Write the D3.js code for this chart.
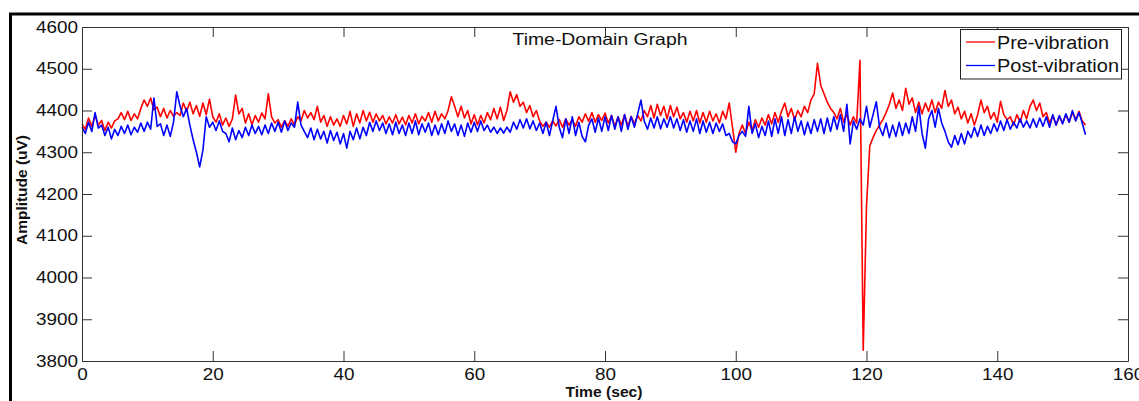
<!DOCTYPE html>
<html>
<head>
<meta charset="utf-8">
<script src="https://cdn.jsdelivr.net/npm/d3@7"></script>
<style>
  body { margin: 0; background: #fff; }
  svg { display: block; font-family: "Liberation Sans", Arial, sans-serif; }
</style>
</head>
<body>
<svg width="1139" height="401"></svg>
<script>
// samples every 0.5 s
const dt = 0.5;

const preVibration = [
  4368, 4355, 4382, 4362, 4388, 4365, 4376, 4352, 4372, 4358,
  4375, 4380, 4395, 4378, 4398, 4376, 4392, 4380, 4405, 4425,
  4410, 4430, 4402, 4408, 4385, 4405, 4382, 4400, 4386, 4395,
  4388, 4418, 4398, 4420, 4392, 4412, 4386, 4418, 4390, 4427,
  4385, 4372, 4392, 4365, 4382, 4362, 4380, 4437, 4392, 4405,
  4370, 4392, 4366, 4388, 4372, 4394, 4380, 4440, 4385, 4370,
  4378, 4360, 4376, 4362, 4380, 4365, 4385, 4375, 4400, 4382,
  4395, 4378, 4410, 4372, 4388, 4362, 4385, 4365, 4380, 4362,
  4388, 4368, 4398, 4362, 4392, 4370, 4400, 4375, 4396, 4372,
  4392, 4375, 4388, 4368, 4385, 4370, 4390, 4368, 4384, 4366,
  4388, 4370, 4392, 4368, 4386, 4375, 4395, 4372, 4398, 4375,
  4392, 4380, 4400, 4433, 4410, 4385, 4410, 4382, 4400, 4368,
  4390, 4366, 4388, 4370, 4395, 4378, 4405, 4380, 4408, 4376,
  4400, 4445, 4420, 4438, 4410, 4420, 4395, 4412, 4385, 4400,
  4375, 4362, 4372, 4360, 4375, 4363, 4378, 4360, 4380, 4365,
  4378, 4362, 4385, 4372, 4392, 4374, 4395, 4372, 4390, 4376,
  4394, 4370, 4388, 4362, 4385, 4365, 4390, 4362, 4386, 4368,
  4388, 4375, 4400, 4385, 4412, 4382, 4415, 4388, 4410, 4380,
  4412, 4385, 4408, 4380, 4395, 4372, 4398, 4375, 4400, 4370,
  4395, 4372, 4398, 4375, 4392, 4370, 4398, 4380, 4418, 4360,
  4300, 4345, 4365, 4345, 4372, 4352, 4378, 4360, 4382, 4365,
  4390, 4368, 4395, 4372, 4398, 4418, 4385, 4405, 4378, 4400,
  4385, 4410, 4395, 4425, 4440, 4513, 4460, 4440, 4420, 4405,
  4395, 4380, 4405, 4372, 4390, 4365, 4385, 4370, 4520, 3826,
  4170, 4315, 4335, 4352, 4365, 4378, 4395, 4415, 4442, 4405,
  4425, 4400, 4453, 4415, 4430, 4395, 4420, 4392, 4418, 4398,
  4425, 4395, 4420, 4405, 4448, 4410, 4425, 4392, 4408, 4380,
  4398, 4370, 4392, 4365, 4390, 4425, 4395, 4410, 4380, 4395,
  4372, 4422, 4390, 4378, 4385, 4365, 4390, 4372, 4400, 4380,
  4410, 4425, 4400, 4418, 4385, 4395, 4370, 4388, 4365, 4385,
  4370, 4390, 4372, 4395, 4378, 4398, 4375, 4365
];

const postVibration = [
  4360, 4345, 4372, 4350, 4395, 4358, 4365, 4340, 4360, 4332,
  4355, 4340, 4362, 4345, 4365, 4342, 4360, 4348, 4370, 4350,
  4372, 4355, 4430, 4362, 4368, 4340, 4365, 4338, 4372, 4445,
  4410, 4385, 4405, 4365, 4330, 4300, 4265, 4305, 4385, 4360,
  4372, 4352, 4375, 4350, 4345, 4325, 4358, 4330, 4352, 4335,
  4360, 4340, 4365, 4345, 4362, 4342, 4365, 4345, 4370, 4350,
  4372, 4348, 4375, 4352, 4370, 4360, 4420, 4365, 4350, 4335,
  4358, 4330, 4355, 4332, 4350, 4322, 4352, 4328, 4348, 4320,
  4345, 4310, 4350, 4330, 4358, 4332, 4360, 4340, 4372, 4350,
  4375, 4352, 4370, 4345, 4368, 4342, 4372, 4345, 4365, 4340,
  4370, 4345, 4375, 4342, 4368, 4348, 4370, 4340, 4365, 4342,
  4368, 4345, 4375, 4350, 4368, 4340, 4365, 4338, 4370, 4348,
  4372, 4350, 4375, 4352, 4365, 4348, 4360, 4345, 4358, 4346,
  4360, 4348, 4372, 4355, 4378, 4358, 4380, 4356, 4375, 4352,
  4370, 4345, 4372, 4340, 4375, 4410, 4360, 4335, 4380, 4345,
  4385, 4340, 4372, 4338, 4325, 4365, 4380, 4348, 4382, 4350,
  4385, 4352, 4388, 4355, 4385, 4350, 4390, 4355, 4385, 4360,
  4392, 4425, 4375, 4355, 4382, 4358, 4385, 4356, 4380, 4360,
  4385, 4358, 4380, 4352, 4378, 4348, 4375, 4350, 4380, 4345,
  4375, 4348, 4372, 4345, 4370, 4350, 4368, 4340, 4345, 4325,
  4320, 4340, 4350, 4338, 4410, 4345, 4368, 4335, 4362, 4340,
  4375, 4338, 4380, 4345, 4385, 4340, 4378, 4345, 4385, 4350,
  4375, 4342, 4372, 4345, 4378, 4350, 4380, 4345, 4382, 4350,
  4385, 4355, 4390, 4350, 4415, 4320, 4375, 4355, 4380, 4365,
  4410, 4360, 4390, 4421, 4360, 4340, 4370, 4335, 4365, 4338,
  4372, 4340, 4370, 4345, 4385, 4350, 4410, 4345, 4310, 4380,
  4400, 4360, 4405, 4370, 4350, 4325, 4312, 4340, 4318, 4345,
  4320, 4350, 4335, 4360, 4338, 4365, 4340, 4362, 4345, 4368,
  4350, 4375, 4352, 4378, 4355, 4372, 4358, 4380, 4360, 4375,
  4358, 4380, 4360, 4382, 4362, 4385, 4360, 4390, 4365, 4388,
  4368, 4392, 4372, 4400, 4375, 4395, 4370, 4342
];

const xTicks = [0, 20, 40, 60, 80, 100, 120, 140, 160];
const yTicks = [3800, 3900, 4000, 4100, 4200, 4300, 4400, 4500, 4600];
const seriesNames = ["Pre-vibration", "Post-vibration"];
const seriesColors = ["#ff0000", "#0000ff"];

const svg = d3.select("svg");
const plotLeft = 82, plotRight = 1128, plotTop = 27, plotBottom = 361;

const x = d3.scaleLinear().domain([0, 160]).range([plotLeft, plotRight]);
const y = d3.scaleLinear().domain([3800, 4600]).range([plotBottom, plotTop]);

// outer figure frame (cut off on the right and bottom)
svg.append("path")
    .attr("d", "M10.5,401 L10.5,14 L1139,14")
    .attr("fill", "none")
    .attr("stroke", "#000")
    .attr("stroke-width", 3);

const line = d3.line()
    .x(function (d, i) { return x(i * dt); })
    .y(function (d) { return y(d); });

const plot = svg.append("g");
[preVibration, postVibration].forEach(function (s, k) {
    plot.append("path")
        .datum(s)
        .attr("fill", "none")
        .attr("stroke", seriesColors[k])
        .attr("stroke-width", 1.6)
        .attr("stroke-linejoin", "round")
        .attr("d", line);
});

// MATLAB-like box with inward ticks on all four sides
function styleAxis(g) {
    g.selectAll("path, line").attr("stroke", "#333");
    g.selectAll("text")
        .attr("fill", "#111")
        .style("font-size", "16px")
        .style("font-family", '"Liberation Sans", Arial, sans-serif');
}

const fmt = d3.format("d");

svg.append("g")
    .attr("transform", "translate(0," + plotBottom + ")")
    .call(d3.axisBottom(x).tickValues(xTicks).tickFormat(fmt).tickSize(-10).tickSizeOuter(0).tickPadding(8))
    .call(styleAxis);
svg.append("g")
    .attr("transform", "translate(0," + plotTop + ")")
    .call(d3.axisTop(x).tickValues(xTicks).tickSize(-10).tickSizeOuter(0).tickFormat(""))
    .call(styleAxis);
svg.append("g")
    .attr("transform", "translate(" + plotLeft + ",0)")
    .call(d3.axisLeft(y).tickValues(yTicks).tickFormat(fmt).tickSize(-10).tickSizeOuter(0).tickPadding(4))
    .call(styleAxis);
svg.append("g")
    .attr("transform", "translate(" + plotRight + ",0)")
    .call(d3.axisRight(y).tickValues(yTicks).tickSize(-10).tickSizeOuter(0).tickFormat(""))
    .call(styleAxis);

svg.selectAll(".tick text").each(function () {
    const w = this.getComputedTextLength();
    if (w > 0) d3.select(this).attr("textLength", w * 1.18).attr("lengthAdjust", "spacingAndGlyphs");
});

// title and axis labels
svg.append("text")
    .attr("x", 600).attr("y", 45)
    .attr("text-anchor", "middle")
    .attr("textLength", 175).attr("lengthAdjust", "spacingAndGlyphs")
    .style("font-size", "16.5px")
    .attr("fill", "#111")
    .text("Time-Domain Graph");

svg.append("text")
    .attr("x", 604).attr("y", 397)
    .attr("text-anchor", "middle")
    .attr("textLength", 77).attr("lengthAdjust", "spacingAndGlyphs")
    .style("font-size", "14px")
    .style("font-weight", "bold")
    .attr("fill", "#111")
    .text("Time (sec)");

svg.append("text")
    .attr("transform", "translate(27,190) rotate(-90)")
    .attr("text-anchor", "middle")
    .attr("textLength", 110).attr("lengthAdjust", "spacingAndGlyphs")
    .style("font-size", "14px")
    .style("font-weight", "bold")
    .attr("fill", "#111")
    .text("Amplitude (uV)");

// legend
const legend = svg.append("g");
legend.append("rect")
    .attr("x", 960.5).attr("y", 29.5)
    .attr("width", 161).attr("height", 49.5)
    .attr("fill", "#fff")
    .attr("stroke", "#222");

const legendTextW = [112, 122];
seriesNames.forEach(function (name, k) {
    const ly = 42 + k * 23.5;
    legend.append("line")
        .attr("x1", 966).attr("x2", 995)
        .attr("y1", ly).attr("y2", ly)
        .attr("stroke", seriesColors[k])
        .attr("stroke-width", 1.3);
    legend.append("text")
        .attr("x", 997).attr("y", ly + 6.5)
        .attr("textLength", legendTextW[k]).attr("lengthAdjust", "spacingAndGlyphs")
        .style("font-size", "18px")
        .attr("fill", "#111")
        .text(name);
});
</script>
</body>
</html>
